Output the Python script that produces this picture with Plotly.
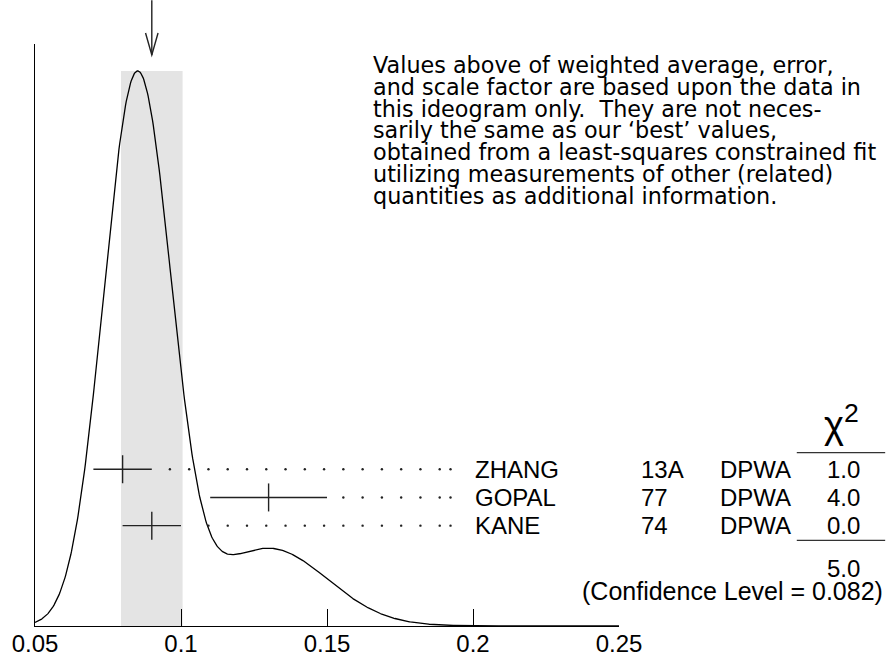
import numpy as np
import plotly.graph_objects as go

# ---- data ----
authors = ["ZHANG", "GOPAL", "KANE"]
years = ["13A", "77", "74"]
techniques = ["DPWA", "DPWA", "DPWA"]
values = [0.08, 0.13, 0.09]
errors = [0.01, 0.02, 0.01]
chi2_labels = ["1.0", "4.0", "0.0"]
chi2_total_label = "5.0"
confidence_label = "(Confidence Level = 0.082)"
tick_vals = [0.05, 0.10, 0.15, 0.20, 0.25]
tick_text = ["0.05", "0.1", "0.15", "0.2", "0.25"]
note_lines = [
    "Values above of weighted average, error,",
    "and scale factor are based upon the data in",
    "this ideogram only.  They are not neces-",
    "sarily the same as our \u2018best\u2019 values,",
    "obtained from a least-squares constrained fit",
    "utilizing measurements of other (related)",
    "quantities as additional information.",
]

# ---- derived statistics ----
v = np.array(values)
e = np.array(errors)
w = 1.0 / e**2
wavg = float(np.sum(w * v) / np.sum(w))
werr = float(1.0 / np.sqrt(np.sum(w)))
chi2 = float(np.sum(((v - wavg) / e) ** 2))
scale = max(1.0, np.sqrt(chi2 / (len(v) - 1)))
band_lo, band_hi = wavg - werr * scale, wavg + werr * scale

# ideogram: sum of gaussians with area proportional to 1/sigma
xs = np.linspace(0.05, 0.25, 801)
ideo = np.zeros_like(xs)
for xi, si in zip(v, e):
    ideo += (1.0 / si**2) * np.exp(-0.5 * ((xs - xi) / si) ** 2)
peak = float(ideo.max())

FONT = "Liberation Sans, Arial, Helvetica, sans-serif"
PFONT = "DejaVu Sans, Liberation Sans, sans-serif"
W, H = 887, 669
L, R, T, B = 31, 268, 44, 41
plot_w = W - L - R
plot_h = H - T - B
ymax = peak * plot_h / (628 - 71)

def paper_x(px):
    return (px - L) / plot_w

def paper_y(py):
    return (H - B - py) / plot_h

# row axis (y2): row index 0 = bottom row
row_step = 28.3
row0_py = 527.3
y2_lo = -(H - B - row0_py) / row_step
y2_hi = (row0_py - T) / row_step
n = len(authors)
rows = [n - 1 - i for i in range(n)]

fig = go.Figure()

# band
fig.add_shape(type="rect", xref="x", yref="y", x0=band_lo, x1=band_hi, y0=0, y1=peak,
              fillcolor="#e4e4e4", line=dict(width=0), layer="below")

# ideogram curve
fig.add_trace(go.Scatter(x=xs, y=ideo, mode="lines", line=dict(color="black", width=1.3),
                         hoverinfo="skip", showlegend=False))

# dotted leader lines
grid = list(np.arange(0.0962, 0.1890, 0.0066)) + [0.1923]
for i in range(n):
    hi = values[i] + errors[i]
    dx = [g for g in grid if g > hi + 0.004]
    fig.add_trace(go.Scatter(x=dx, y=[rows[i]] * len(dx), yaxis="y2", mode="markers",
                             marker=dict(color="#222", size=2.4), hoverinfo="skip", showlegend=False))

# error bars
for i in range(n):
    fig.add_trace(go.Scatter(x=[values[i] - errors[i], values[i] + errors[i]], y=[rows[i]] * 2,
                             yaxis="y2", mode="lines", line=dict(color="#222", width=1.4),
                             hoverinfo="skip", showlegend=False))
fig.add_trace(go.Scatter(x=values, y=rows, yaxis="y2", mode="markers",
                         marker=dict(symbol="line-ns", size=20, line=dict(color="#222", width=1.4)),
                         hoverinfo="skip", showlegend=False))

# arrow at weighted average
fig.add_shape(type="line", xref="x", yref="paper", x0=wavg, x1=wavg, y0=paper_y(55), y1=paper_y(0),
              line=dict(color="#222", width=1.4))
fig.add_shape(type="path", xref="paper", yref="paper",
              path="M {a},{b} L {c},{d} L {e_},{f}".format(
                  a=(wavg - 0.05) / 0.2 - 6.3 / plot_w, b=paper_y(33),
                  c=(wavg - 0.05) / 0.2, d=paper_y(55),
                  e_=(wavg - 0.05) / 0.2 + 6.3 / plot_w, f=paper_y(33)),
              line=dict(color="#222", width=1.4))

anns = []
# note paragraph
for k, line in enumerate(note_lines):
    anns.append(dict(x=paper_x(369), y=paper_y(65 + 21.9 * k), xref="paper", yref="paper",
                     text=line, showarrow=False, xanchor="left", yanchor="middle",
                     font=dict(family=PFONT, size=22.3, color="black")))

LBL = 24
# row labels
for i in range(n):
    yy = rows[i]
    anns.append(dict(x=0.2, y=yy, xref="x", yref="y2", text=authors[i], showarrow=False,
                     xanchor="left", yanchor="middle", font=dict(family=FONT, size=LBL, color="black")))
    anns.append(dict(x=paper_x(639), y=yy, xref="paper", yref="y2", text=years[i], showarrow=False,
                     xanchor="left", yanchor="middle", font=dict(family=FONT, size=LBL, color="black")))
    anns.append(dict(x=paper_x(719), y=yy, xref="paper", yref="y2", text=techniques[i], showarrow=False,
                     xanchor="left", yanchor="middle", font=dict(family=FONT, size=LBL, color="black")))
    anns.append(dict(x=paper_x(864), y=yy, xref="paper", yref="y2", text=chi2_labels[i], showarrow=False,
                     xanchor="right", yanchor="middle", font=dict(family=FONT, size=LBL, color="black")))

anns.append(dict(x=paper_x(843), y=paper_y(423), xref="paper", yref="paper", text="\u03c7<sup>2</sup>",
                 showarrow=False, xanchor="center", yanchor="middle",
                 font=dict(family=FONT, size=38, color="black")))
anns.append(dict(x=paper_x(864), y=paper_y(570), xref="paper", yref="paper", text=chi2_total_label,
                 showarrow=False, xanchor="right", yanchor="middle",
                 font=dict(family=FONT, size=LBL, color="black")))
anns.append(dict(x=paper_x(887), y=paper_y(593), xref="paper", yref="paper", text=confidence_label,
                 showarrow=False, xanchor="right", yanchor="middle",
                 font=dict(family=FONT, size=25, color="black")))

# chi2 underlines
for py in (454, 542):
    fig.add_shape(type="line", xref="paper", yref="paper", x0=paper_x(798), x1=paper_x(887),
                  y0=paper_y(py), y1=paper_y(py), line=dict(color="#333", width=1.2))

fig.update_layout(
    width=W, height=H, margin=dict(l=L, r=R, t=T, b=B, pad=0),
    paper_bgcolor="white", plot_bgcolor="white",
    annotations=anns,
    xaxis=dict(range=[0.05, 0.25], showgrid=False, zeroline=False, showline=True,
               linecolor="black", linewidth=1.4, ticks="inside", ticklen=17, tickwidth=1.2,
               tickcolor="black", tickvals=tick_vals, ticktext=tick_text,
               ticklabelstandoff=-4,
               tickfont=dict(family=FONT, size=24, color="black")),
    yaxis=dict(range=[0, ymax], showgrid=False, zeroline=False, showline=True,
               linecolor="black", linewidth=1.4, showticklabels=False, ticks=""),
    yaxis2=dict(range=[y2_lo, y2_hi], overlaying="y", visible=False),
)

fig.write_html("out.html", config={"displayModeBar": False},
               post_script="document.body.style.margin='0px';")
